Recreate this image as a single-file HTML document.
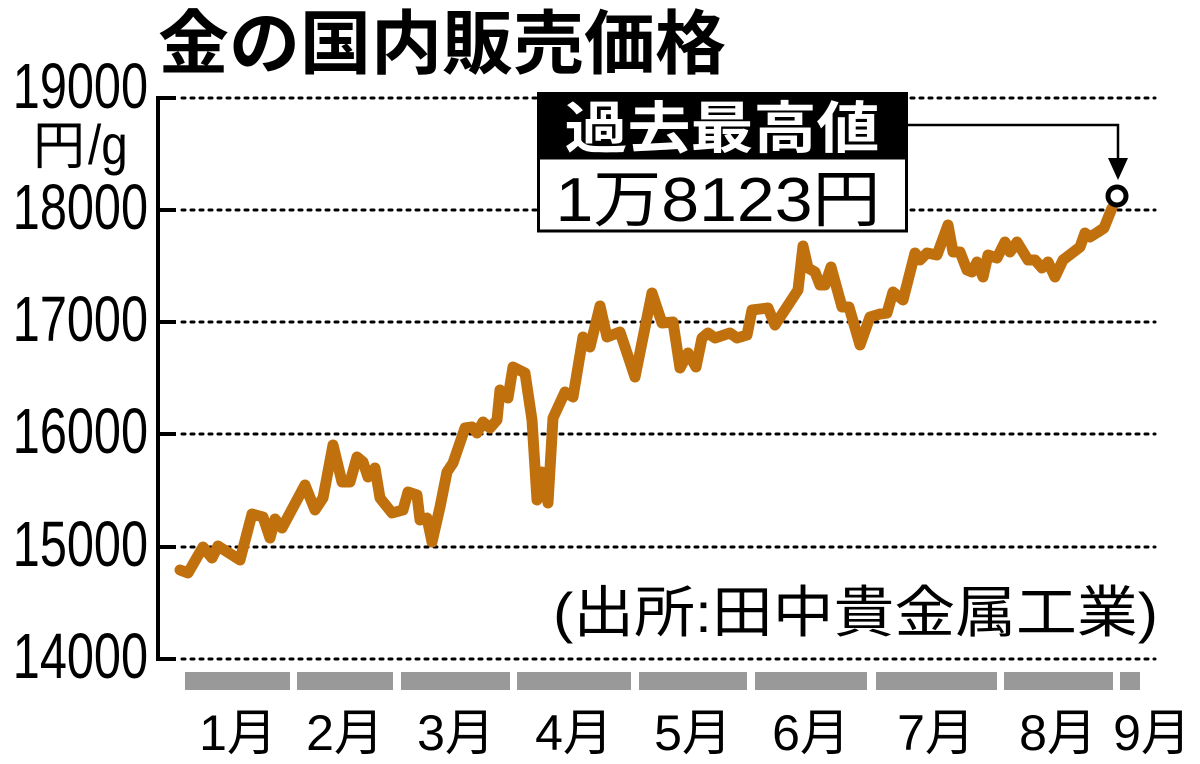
<!DOCTYPE html>
<html><head><meta charset="utf-8"><style>
html,body{margin:0;padding:0;background:#fff;}
svg{display:block;}
</style></head><body>
<svg width="1200" height="764" viewBox="0 0 1200 764" xmlns="http://www.w3.org/2000/svg" font-family="'Liberation Sans','Noto Sans CJK JP',sans-serif">
<text x="158" y="68" font-size="70" font-weight="bold" fill="#000" textLength="568" lengthAdjust="spacingAndGlyphs">金の国内販売価格</text>
<g fill="#000" font-size="64">
<g transform="translate(148,0) scale(0.76,1)" text-anchor="end">
<text x="0" y="108">19000</text>
<text x="0" y="229">18000</text>
<text x="0" y="341">17000</text>
<text x="0" y="453">16000</text>
<text x="0" y="566">15000</text>
<text x="0" y="678">14000</text>
</g>
<text x="33" y="164" font-size="52">円</text>
<text x="88" y="164" font-size="56" transform="translate(88,0) scale(0.85,1) translate(-88,0)">/g</text>
</g>
<g stroke="#000" stroke-width="3" stroke-dasharray="3 6" stroke-linecap="round">
<line x1="182" y1="98" x2="1155" y2="98"/>
<line x1="182" y1="210" x2="1155" y2="210"/>
<line x1="182" y1="322" x2="1155" y2="322"/>
<line x1="182" y1="434" x2="1155" y2="434"/>
<line x1="182" y1="547" x2="1155" y2="547"/>
<line x1="182" y1="659" x2="1155" y2="659"/>
</g>
<g stroke="#000" stroke-width="4">
<line x1="158" y1="96" x2="158" y2="661"/>
<line x1="156" y1="98" x2="176" y2="98"/>
<line x1="156" y1="210" x2="176" y2="210"/>
<line x1="156" y1="322" x2="176" y2="322"/>
<line x1="156" y1="434" x2="176" y2="434"/>
<line x1="156" y1="547" x2="176" y2="547"/>
<line x1="156" y1="659" x2="176" y2="659"/>
</g>
<text x="553" y="632" font-size="56" fill="#000" textLength="605" lengthAdjust="spacingAndGlyphs">(出所:田中貴金属工業)</text>
<polyline fill="none" stroke="#c0700c" stroke-width="11" stroke-linejoin="round" stroke-linecap="round" points="180,570 188,573 203,547 212,558 218,546 240,560 252,514 263,517 270,538 275,519 282,528 305,485 315,510 323,498 333,445 342,482 350,482 357,457 363,462 368,477 375,468 380,498 392,513 403,510 408,492 417,495 420,520 427,518 432,542 440,507 447,472 453,463 465,428 472,427 477,433 483,422 490,428 497,420 500,390 508,398 513,367 525,373 532,420 537,500 542,472 548,503 553,418 565,392 573,397 583,337 590,347 600,306 607,337 620,332 635,377 652,293 662,323 673,322 680,368 688,353 696,367 702,338 708,333 715,338 730,333 737,338 747,335 752,310 768,308 775,325 798,290 803,246 808,268 815,272 820,285 825,285 831,267 842,307 849,307 860,345 870,317 880,314 887,313 893,292 903,300 915,253 920,260 927,253 937,255 948,225 953,252 960,252 967,270 972,272 977,262 983,277 988,255 997,258 1005,242 1010,252 1017,242 1028,260 1035,260 1042,268 1048,262 1055,277 1063,260 1080,247 1085,233 1090,237 1098,232 1104,228 1112,208"/>
<polyline fill="none" stroke="#000" stroke-width="2.5" points="908,125 1118,125 1118,166"/>
<polygon points="1108,158 1128,158 1118,180" fill="#000"/>
<circle cx="1117" cy="196" r="9" fill="#fff" stroke="#000" stroke-width="5"/>
<rect x="537" y="92" width="371" height="66" fill="#000"/>
<text x="722" y="148" font-size="56" font-weight="bold" fill="#fff" text-anchor="middle" textLength="315" lengthAdjust="spacingAndGlyphs">過去最高値</text>
<rect x="538.5" y="158" width="368" height="73" fill="#fff" stroke="#000" stroke-width="3"/>
<text x="718" y="221" font-size="62" fill="#000" text-anchor="middle" textLength="325" lengthAdjust="spacingAndGlyphs">1万8123円</text>
<g fill="#999">
<rect x="185" y="672" width="105" height="18"/>
<rect x="297" y="672" width="96" height="18"/>
<rect x="401" y="672" width="109" height="18"/>
<rect x="517" y="672" width="114" height="18"/>
<rect x="639" y="672" width="108" height="18"/>
<rect x="755" y="672" width="112" height="18"/>
<rect x="876" y="672" width="121" height="18"/>
<rect x="1004" y="672" width="109" height="18"/>
<rect x="1120" y="672" width="20" height="18"/>
</g>
<g font-size="50" fill="#000" text-anchor="middle">
<text x="238" y="750">1月</text>
<text x="345" y="750">2月</text>
<text x="456" y="750">3月</text>
<text x="574" y="750">4月</text>
<text x="693" y="750">5月</text>
<text x="811" y="750">6月</text>
<text x="936" y="750">7月</text>
<text x="1058" y="750">8月</text>
<text x="1152" y="750">9月</text>
</g>
</svg>
</body></html>
